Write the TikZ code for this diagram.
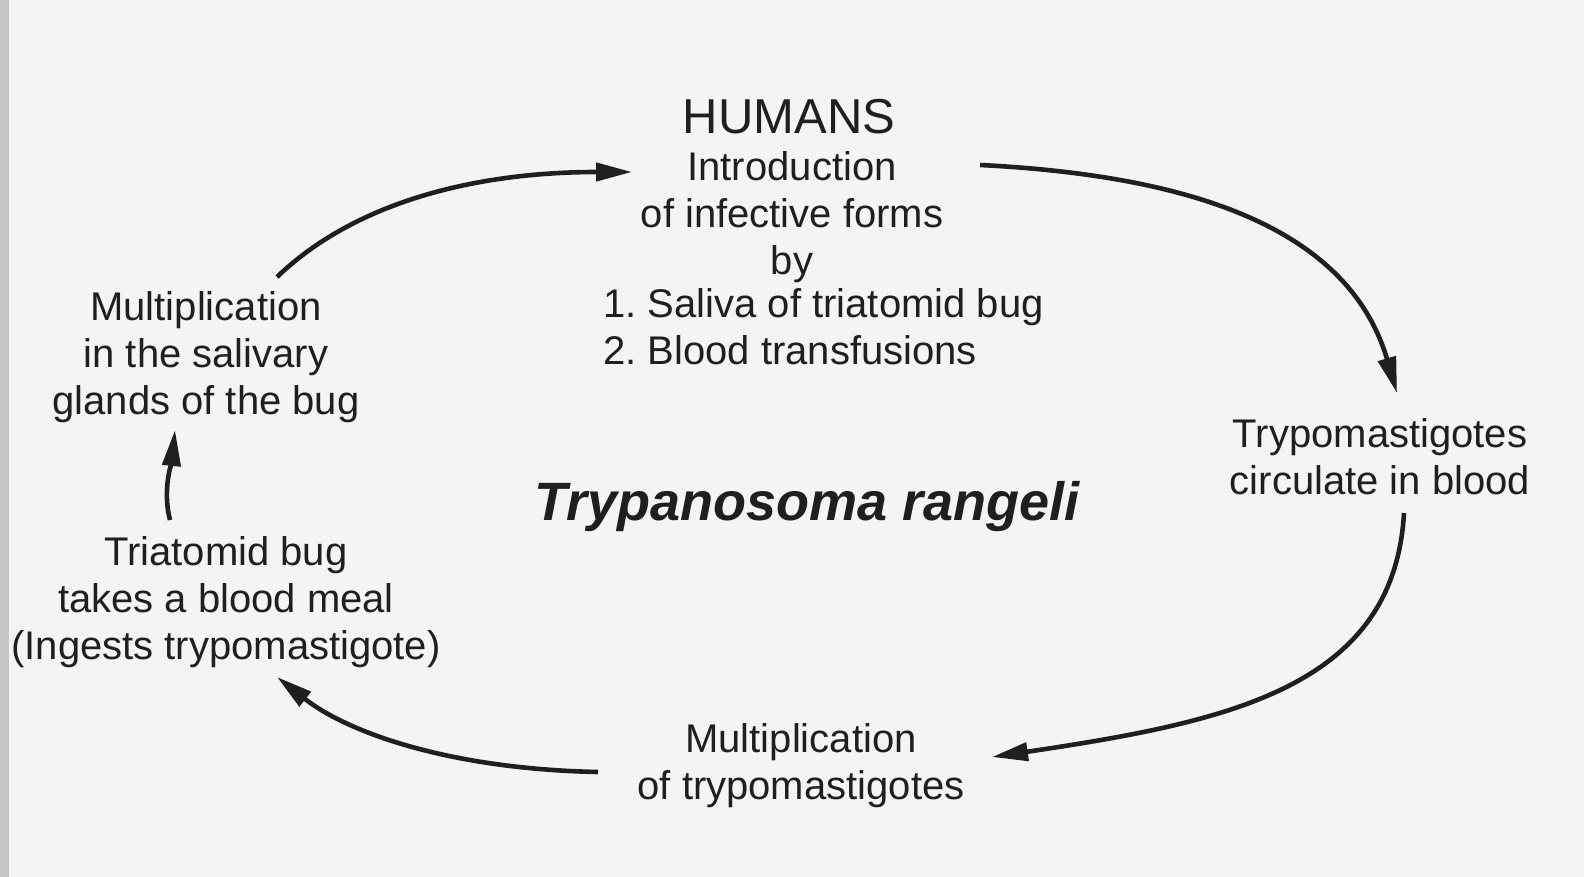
\documentclass[tikz,border=0pt]{standalone}
\usepackage{fontspec}
\setmainfont{Liberation Sans}
\usetikzlibrary{arrows.meta}
\frenchspacing

\begin{document}
\begin{tikzpicture}[x=0.5pt, y=-0.5pt,
        stage/.style={align=center, inner sep=0pt, text=black!88,
            font=\fontsize{20}{23.5}\selectfont},
        cyclearrow/.style={line width=2.3pt, draw=black!88,
            -{Triangle[length=18pt, width=9pt]}}]

        %----- PAGE -----
        \fill[gray!9] (0,0) rectangle (1584,877);
        \fill[gray!45] (0,0) rectangle (9,877);
        \useasboundingbox (0,0) rectangle (1584,877);

        %----- STAGES OF THE CYCLE -----
        \node[stage, font=\fontsize{24.5}{28}\selectfont] (humans) at (789,117) {HUMANS};
        \node[stage] (intro) at (792,217) {Introduction\\of infective forms\\by};
        \node[stage, align=left, anchor=west] (routes) at (603,327)
            {1. Saliva of triatomid bug\\2. Blood transfusions};
        \node[stage] (circ) at (1380,457) {Trypomastigotes\\circulate in blood};
        \node[stage] (multbot) at (801,766) {Multiplication\\of trypomastigotes};
        \node[stage] (meal) at (226,602)
            {Triatomid bug\\takes a blood meal\\(Ingests trypomastigote)};
        \node[stage] (glands) at (206,357)
            {Multiplication\\in the salivary\\glands of the bug};

        %----- SPECIES NAME -----
        \node[stage, font=\fontsize{27}{30}\selectfont\bfseries\itshape]
            (species) at (807,507) {Trypanosoma rangeli};

        %----- ARROWS -----
        \draw[cyclearrow] ([shift={(71,-80)}]glands.center)
            .. controls +(80,-77) and +(-152,0) .. ([shift={(-160,-45)}]intro.center);
        \draw[cyclearrow] ([shift={(188,-52)}]intro.center)
            .. controls +(200,10) and +(-50,-170) .. ([shift={(17,-64)}]circ.center);
        \draw[cyclearrow] ([shift={(24,56)}]circ.center)
            .. controls +(-10,175) and +(235,-35) .. ([shift={(191,-9)}]multbot.center);
        \draw[cyclearrow] ([shift={(-203,6)}]multbot.center)
            .. controls +(-150,-3) and +(70,55) .. ([shift={(51,75)}]meal.center);
        \draw[cyclearrow] ([shift={(-56,-82)}]meal.center)
            .. controls +(-8,-30) and +(-3,30) .. ([shift={(-31,73)}]glands.center);

    \end{tikzpicture}
\end{document}
